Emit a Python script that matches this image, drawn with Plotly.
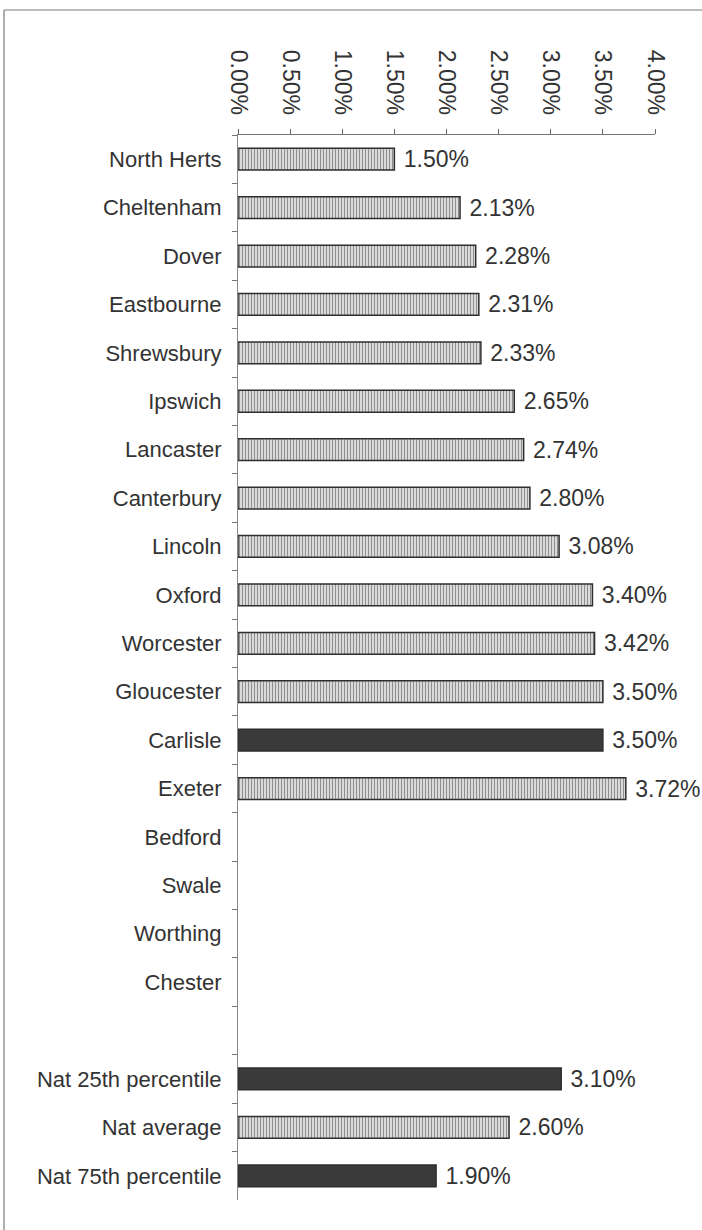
import plotly.graph_objects as go

categories = ["North Herts", "Cheltenham", "Dover", "Eastbourne", "Shrewsbury",
              "Ipswich", "Lancaster", "Canterbury", "Lincoln", "Oxford",
              "Worcester", "Gloucester", "Carlisle", "Exeter", "Bedford",
              "Swale", "Worthing", "Chester", " ", "Nat 25th percentile",
              "Nat average", "Nat 75th percentile"]
values = [1.50, 2.13, 2.28, 2.31, 2.33, 2.65, 2.74, 2.80, 3.08, 3.40, 3.42,
          3.50, 3.50, 3.72, None, None, None, None, None, 3.10, 2.60, 1.90]
dark = ["Carlisle", "Nat 25th percentile", "Nat 75th percentile"]
tick_vals = [0, 0.5, 1.0, 1.5, 2.0, 2.5, 3.0, 3.5, 4.0]
tick_text = ["0.00%", "0.50%", "1.00%", "1.50%", "2.00%", "2.50%", "3.00%", "3.50%", "4.00%"]

LIGHT_BG = "#dadada"
LIGHT_FG = "#a8a8a8"
DARK = "#3a3a3a"

colors = [DARK if c in dark else LIGHT_BG for c in categories]
shapes_pat = ["" if c in dark else "|" for c in categories]
fgcols = [DARK if c in dark else LIGHT_FG for c in categories]
texts = ["" if v is None else "\u00a0%.2f%%" % v for v in values]

FONT = "Liberation Sans, Arial, sans-serif"

fig = go.Figure(go.Bar(
    x=values, y=categories, orientation="h",
    marker=dict(color=colors,
                line=dict(color="#2e2e2e", width=1.5),
                pattern=dict(shape=shapes_pat, fgcolor=fgcols,
                             size=3, solidity=0.35, fillmode="overlay")),
    text=texts, textposition="outside", cliponaxis=False, constraintext="none",
    textfont=dict(family=FONT, size=23, color="#333333"),
    hoverinfo="skip",
))

W, H = 702, 1230
ml, mr, mt, mb = 238, 47, 135, 30
pw, ph = W - ml - mr, H - mt - mb

def px_to_paper_x(px):
    return (px - ml) / pw

def px_to_paper_y(py):
    return (H - mb - py) / ph

frame_col = "#7a7a7a"
fig.update_layout(
    width=W, height=H,
    margin=dict(l=ml, r=mr, t=mt, b=mb),
    paper_bgcolor="white", plot_bgcolor="white",
    bargap=0.55,
    showlegend=False,
    font=dict(family=FONT, size=22, color="#333333"),
    xaxis=dict(side="top", range=[0, 4], tickvals=tick_vals, ticktext=tick_text,
               tickangle=90, ticks="outside", ticklen=5, tickcolor="#666666",
               ticklabelstandoff=6,
               showline=True, linecolor="#777777", linewidth=1,
               showgrid=False, zeroline=False,
               tickfont=dict(family=FONT, size=23, color="#333333")),
    yaxis=dict(autorange="reversed", type="category",
               ticks="outside", tickson="boundaries", ticklen=5, tickcolor="#777777",
               ticklabelstandoff=11,
               showline=True, linecolor="#888888", linewidth=1,
               showgrid=False, zeroline=False,
               tickfont=dict(family=FONT, size=22, color="#333333")),
    shapes=[
        dict(type="line", xref="paper", yref="paper",
             x0=px_to_paper_x(4), x1=px_to_paper_x(W + 5),
             y0=px_to_paper_y(10), y1=px_to_paper_y(10),
             line=dict(color=frame_col, width=1.2)),
        dict(type="line", xref="paper", yref="paper",
             x0=px_to_paper_x(4), x1=px_to_paper_x(4),
             y0=px_to_paper_y(10), y1=px_to_paper_y(H + 5),
             line=dict(color=frame_col, width=1.2)),
    ],
)

fig.write_html("out.html", config={"displayModeBar": False},
               post_script="document.body.style.margin='0';")
